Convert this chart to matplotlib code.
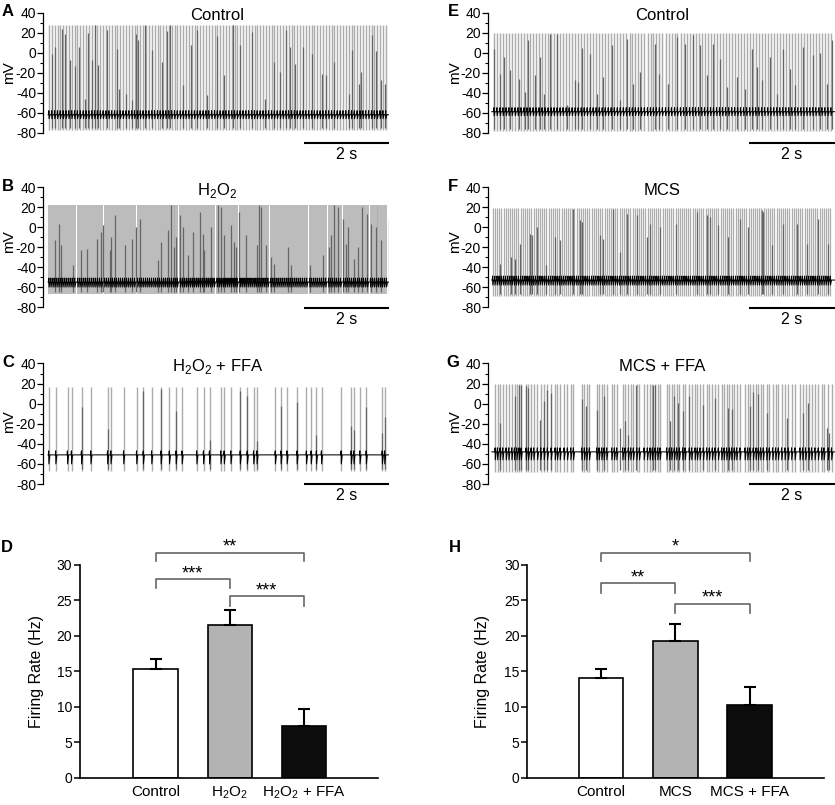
import matplotlib
matplotlib.use('Agg')
import matplotlib.pyplot as plt
import numpy as np
from matplotlib.ticker import MultipleLocator

plt.rcParams['font.family'] = ['Liberation Sans', 'DejaVu Sans']
plt.rcParams['mathtext.fontset'] = 'custom'
plt.rcParams['mathtext.rm'] = 'Liberation Sans'
plt.rcParams['axes.unicode_minus'] = False

H2O2 = r'H$_\mathregular{2}$O$_\mathregular{2}$'

# ---------------- trace data (time in s, voltage in mV) ----------------
# dense traces: first spike time + inter-spike intervals (ms)
a_start = 0.02
a_isi = [66, 68, 67, 65, 69, 67, 66, 68, 67, 66,
         70, 67, 65, 67, 68, 66, 67, 69, 66, 67,
         68, 65, 67, 66, 68, 67, 70, 66, 67, 65,
         67, 68, 66, 67, 69, 67, 66, 68, 65, 67,
         66, 68, 67, 67, 66, 69, 67, 65, 68, 66,
         67, 68, 66, 70, 67, 65, 67, 68, 66, 67,
         69, 66, 67, 68, 65, 67, 66, 68, 67, 66,
         68, 67, 65, 69, 67, 66, 67, 68, 66, 67,
         70, 66, 67, 65, 68, 67, 66, 69, 67, 66,
         68, 67, 66, 67, 68, 65, 67, 69, 66, 67,
         67, 68, 66, 67, 65, 68, 67, 66, 69, 67,
         66, 68, 67, 66, 67, 68, 67, 66]
b_start = 0.02
b_isi = [46, 48, 45, 47, 46, 49, 45, 47, 46, 48, 47, 45, 47, 72,
         47, 46, 48, 45, 47, 46, 48, 47, 45, 46, 48, 47, 70,
         46, 47, 48, 45, 47, 46, 49, 46, 47, 45, 48, 46, 47, 46, 48, 74,
         47, 46, 45, 48, 47, 46, 47, 49, 45, 46, 47, 48, 46, 45, 47, 48, 46, 47, 46, 45, 72,
         46, 48, 47, 45, 46, 47, 48, 46, 45, 47, 49, 46, 47, 45, 48, 46, 47, 70,
         47, 46, 48, 45, 47, 46, 47, 48, 45, 46, 73,
         46, 47, 45, 48, 47, 46, 49, 45, 47, 46, 48, 47, 45, 46, 71,
         47, 46, 48, 45, 47, 46, 47, 49, 46, 45, 47, 48, 46, 47, 45, 46, 48, 47, 72,
         46, 48, 47, 45, 47, 46, 48, 47, 70,
         47, 46, 48, 45, 47, 46, 72,
         46, 47, 48, 45, 47, 46, 49, 46, 47, 45, 48, 46, 70,
         47, 46, 48, 45, 47, 46, 48, 47]
e_start = 0.05
e_isi = [70, 72, 69, 71, 68, 70, 73, 69, 70, 71,
         69, 70, 72, 68, 71, 70, 69, 72, 70, 68,
         71, 70, 69, 73, 70, 68, 71, 70, 72, 69,
         70, 71, 68, 70, 72, 69, 71, 70, 68, 73,
         70, 69, 71, 70, 72, 68, 70, 71, 69, 70,
         72, 70, 68, 71, 69, 70, 73, 70, 69, 71,
         68, 70, 72, 69, 71, 70, 68, 72, 70, 69,
         71, 70, 69, 72, 68, 70, 71, 73, 69, 70,
         70, 68, 71, 70, 72, 69, 70, 71, 68, 70,
         73, 69, 70, 71, 70, 68, 72, 70, 69, 71,
         70, 72, 68, 70, 71, 69, 70, 72, 70, 69,
         71, 70]
f_start = 0.02
f_isi = [50, 51, 49, 52, 50, 48, 51, 50, 49, 52,
         50, 49, 51, 50, 52, 48, 50, 51, 49, 50,
         52, 50, 49, 51, 48, 50, 51, 50, 52, 49,
         50, 51, 49, 50, 52, 50, 48, 51, 50, 49,
         51, 50, 52, 49, 50, 51, 48, 50, 52, 50,
         49, 51, 50, 50, 52, 49, 51, 48, 50, 51,
         50, 49, 52, 50, 51, 49, 50, 48, 51, 50,
         52, 50, 49, 51, 50, 50, 49, 52, 48, 51,
         50, 51, 49, 50, 52, 50, 49, 51, 50, 48,
         51, 50, 52, 49, 50, 51, 50, 49, 52, 50,
         48, 51, 50, 49, 51, 50, 52, 50, 49, 51,
         50, 48, 52, 50, 51, 49, 50, 51, 50, 49,
         52, 50, 51, 48, 50, 49, 51, 50, 52, 50,
         49, 51, 50, 50, 48, 52, 51, 49, 50, 51,
         50, 49, 52, 50, 51, 48, 50, 51, 49, 50,
         52, 50, 49, 51, 50, 50, 51]

# sparse traces: spike times (s)
c_spikes = [0.016, 0.18, 0.455, 0.549, 0.784, 1.004, 1.396, 1.475, 1.773, 2.078,
            2.235, 2.431, 2.651, 2.847, 3.004, 3.145, 3.49, 3.647, 3.788, 4.055,
            4.133, 4.29, 4.51, 4.675, 4.824, 4.902, 5.333, 5.467, 5.608, 5.843,
            6.063, 6.173, 6.298, 6.416, 6.878, 7.114, 7.176, 7.318, 7.467, 7.843,
            7.898]
g_spikes = [0.078, 0.132, 0.194, 0.256, 0.334, 0.396, 0.466, 0.528, 0.583, 0.637,
            0.684, 0.8, 0.854, 0.917, 0.979, 1.064, 1.142, 1.219, 1.297, 1.383,
            1.476, 1.53, 1.592, 1.685, 1.763, 1.841, 1.903, 2.097, 2.159, 2.214,
            2.276, 2.447, 2.501, 2.563, 2.617, 2.68, 2.796, 2.858, 2.913, 3.052,
            3.107, 3.184, 3.239, 3.301, 3.379, 3.441, 3.55, 3.627, 3.689, 3.744,
            3.806, 3.868, 3.922, 4.078, 4.14, 4.194, 4.256, 4.311, 4.373, 4.45,
            4.505, 4.606, 4.66, 4.738, 4.792, 4.854, 4.932, 5.01, 5.072, 5.142,
            5.204, 5.282, 5.359, 5.414, 5.476, 5.538, 5.592, 5.654, 5.709, 5.786,
            5.903, 5.965, 6.019, 6.097, 6.159, 6.214, 6.268, 6.33, 6.408, 6.47,
            6.548, 6.617, 6.68, 6.757, 6.835, 6.913, 6.99, 7.068, 7.184, 7.247,
            7.316, 7.394, 7.456, 7.534, 7.612, 7.689, 7.744, 7.845, 7.922]

# partially drawn (dark) spikes: (time s, tip mV)
a_dark = [(0.094, -1), (0.157, 6), (0.329, 24), (0.408, 19), (0.51, -7), (0.627, -13),
          (0.722, 6), (0.863, -46), (0.941, 20), (1.02, -7), (1.098, 28), (1.161, -12),
          (1.373, 23), (1.608, 4), (1.663, -36), (1.827, -41), (1.976, -47), (2.055, 19),
          (2.118, 13), (2.275, 28), (2.431, 3), (2.667, -9), (2.784, 22), (2.863, 28),
          (3.176, -32), (3.357, 8), (3.49, 23), (3.725, -42), (3.961, 17), (4.133, -22),
          (4.337, 28), (4.51, 8), (4.784, 21), (5.098, -46), (5.294, -9), (5.451, -19),
          (5.592, 23), (5.686, 6), (5.804, -11), (5.984, 6), (6.196, -1), (6.431, -21),
          (6.51, -22), (6.706, -9), (7.059, -41), (7.137, 3), (7.294, -31), (7.349, -19),
          (7.608, 18), (7.686, 2), (7.804, -27), (7.898, -31)]
b_dark = [(0.156, -13), (0.25, 3), (0.297, -18), (0.585, -38), (0.781, -23), (0.921, -22),
          (1.148, -12), (1.249, -5), (1.288, 2), (1.444, -23), (1.483, -10), (1.561, 12),
          (1.796, -18), (1.967, -12), (2.053, 0), (2.147, 8), (2.576, -33), (2.654, -15),
          (2.81, -3), (2.873, 22), (2.951, -20), (3.005, -10), (3.084, 12), (3.162, 0),
          (3.279, -28), (3.396, -5), (3.575, 15), (3.63, -7), (3.669, -23), (3.825, 0),
          (3.981, 22), (4.059, 20), (4.137, -8), (4.294, 2), (4.372, -15), (4.411, -20),
          (4.489, 15), (4.645, -8), (4.902, -18), (4.957, 22), (4.996, 20), (5.113, -18),
          (5.23, -30), (5.308, -37), (5.621, -20), (5.698, -38), (6.151, -38), (6.44, -28),
          (6.596, -20), (6.635, -8), (6.714, 22), (6.792, 20), (6.909, 8), (6.987, -17),
          (7.041, 0), (7.182, -32), (7.276, -20), (7.377, 20), (7.494, 13), (7.572, 3),
          (7.689, 0), (7.806, -13), (7.99, 7)]
c_dark = [(0.784, -3), (1.396, -25), (2.235, 13), (2.651, 15), (3.004, -7), (3.788, -36),
          (4.51, 13), (4.675, 8), (4.902, -37), (5.467, -2), (5.843, 2), (6.298, -31),
          (7.114, -22), (7.176, -26), (7.467, -3), (7.843, -29), (7.898, -13)]
e_dark = [(0.054, 4), (0.179, -21), (0.272, -4), (0.412, -17), (0.637, -26), (0.761, -39),
          (0.854, 13), (1.01, -22), (1.111, -4), (1.219, -41), (1.344, 19), (1.53, 19),
          (1.748, -52), (1.942, -27), (2.019, -29), (2.097, 5), (2.291, -1), (2.462, -41),
          (2.602, -24), (2.796, 8), (2.99, -47), (3.146, 14), (3.301, -31), (3.456, -19),
          (3.806, 9), (3.907, -21), (4.117, -31), (4.311, 16), (4.505, 9), (4.683, 18),
          (4.854, 8), (5.01, -22), (5.15, 9), (5.32, -6), (5.476, -34), (5.709, -24),
          (5.903, -36), (6.058, 4), (6.175, -14), (6.291, -27), (6.485, -4), (6.641, -41),
          (6.796, 4), (6.951, -16), (7.068, -32), (7.262, 6), (7.495, -2), (7.65, 0),
          (7.806, -31), (7.922, 13)]
f_dark = [(0.179, -37), (0.45, -30), (0.544, -32), (0.66, -17), (0.893, -7), (0.932, -8),
          (1.064, 0), (1.258, -38), (1.476, -10), (1.592, -13), (1.903, 18), (2.058, 7),
          (2.113, 5), (2.524, -8), (2.586, -12), (2.819, 18), (2.99, -25), (3.146, 13),
          (3.379, 12), (3.612, -10), (3.689, 3), (3.922, 0), (4.295, 3), (4.777, 15),
          (5.01, 12), (5.087, 10), (5.282, 2), (5.515, -10), (5.786, 8), (5.981, 0),
          (6.291, 17), (6.33, 15), (6.524, -18), (6.796, 3), (7.107, 3), (7.34, -17),
          (7.612, 8), (7.845, -17)]
g_dark = [(0.194, -19), (0.528, 8), (0.637, 19), (0.684, 19), (0.8, 18), (0.854, 16),
          (1.126, -16), (1.204, 3), (1.282, 14), (1.375, 11), (2.097, 5), (2.19, -2),
          (2.447, -6), (2.617, 8), (2.99, -24), (3.107, -17), (3.184, -31), (3.363, 19),
          (3.751, 19), (3.806, 19), (4.155, -17), (4.249, 8), (4.349, 1), (4.466, -7),
          (4.606, 8), (4.932, -1), (5.204, 6), (5.515, -4), (5.592, -5), (6.019, -2),
          (6.097, 12), (6.198, 10), (6.408, -9), (6.874, -14), (7.262, -9), (7.379, 1),
          (7.821, -24), (7.868, -29)]

# [peak, trough, resting level, after-hyperpolarisation depth] in mV
a_levels = [28, -77, -62, 4]
b_levels = [22, -67, -55, 5]
c_levels = [17, -67, -51, 9]
e_levels = [20, -78, -59, 4]
f_levels = [19, -69, -53, 5]
g_levels = [20, -68, -48, 8]

trace_titles = ['Control', H2O2, H2O2 + ' + FFA', 'Control', 'MCS', 'MCS + FFA']
trace_letters = ['A', 'B', 'C', 'E', 'F', 'G']

# ---------------- bar data ----------------
d_labels = ['Control', H2O2, H2O2 + ' + FFA']
d_mean = [15.3, 21.6, 7.25]
d_sem = [1.4, 2.0, 2.45]
d_pairs = [(0, 2, '**'), (0, 1, '***'), (1, 2, '***')]

h_labels = ['Control', 'MCS', 'MCS + FFA']
h_mean = [14.0, 19.3, 10.3]
h_sem = [1.3, 2.35, 2.45]
h_pairs = [(0, 2, '*'), (0, 1, '**'), (1, 2, '***')]

bar_colors = ['white', '#b3b3b3', '#0c0c0c']


def to_times(start, isi):
    return start + np.cumsum([0] + isi) / 1000.0


a_spikes = to_times(a_start, a_isi)
b_spikes = to_times(b_start, b_isi)
e_spikes = to_times(e_start, e_isi)
f_spikes = to_times(f_start, f_isi)

# ---------------- layout ----------------
W, H = 835, 805
fig = plt.figure(figsize=(W / 100, H / 100), dpi=100)


def px_axes(left, top, right, bottom):
    return fig.add_axes([left / W, 1 - bottom / H, (right - left) / W, (bottom - top) / H])


def draw_trace(ax, spikes, dark, levels, title, bar_y, text_y, x0, spike_lw):
    peak, trough, base, ahp = levels
    spikes = np.asarray(spikes)
    ax.vlines(spikes, trough, peak, color='#acacac', lw=spike_lw, zorder=1)
    dt = [d[0] for d in dark]
    dv = [d[1] for d in dark]
    ax.vlines(dt, trough + 2, dv, color='#656565', lw=0.9, zorder=2)
    # membrane potential between spikes
    tt = [0.0]
    vv = [base]
    for s in spikes:
        tt += [s - 0.010, s - 0.002, s + 0.002, s + 0.025]
        vv += [base, base + 4, base - ahp, base]
    tt.append(8.0)
    vv.append(base)
    order = np.argsort(tt)
    ax.plot(np.array(tt)[order], np.array(vv)[order], color='black', lw=0.75, zorder=3)

    ax.set_xlim(x0, 8.0)
    ax.set_ylim(-80, 40)
    for s in ['top', 'right', 'bottom']:
        ax.spines[s].set_visible(False)
    ax.spines['left'].set_linewidth(0.9)
    ax.set_xticks([])
    ax.set_yticks(range(-80, 41, 20))
    ax.yaxis.set_minor_locator(MultipleLocator(10))
    ax.tick_params(axis='y', which='major', length=4, width=0.9, labelsize=10, pad=1)
    ax.tick_params(axis='y', which='minor', length=2.3, width=0.8)
    ax.text(3.97, 37, title, ha='center', va='center', fontsize=12)
    # 2 s scale bar
    ax.plot([6.0, 8.0], [bar_y, bar_y], color='black', lw=1.5, clip_on=False,
            solid_capstyle='butt')
    ax.text(7.0, text_y, '2 s', ha='center', va='center', fontsize=11.5)
    ax.patch.set_alpha(0)


rows = [(12.7, 132.7), (187.3, 307.0), (363.5, 484.0)]
bar_levels = [(-90.6, -102), (-81, -92.5), (-80, -91.5)]
mv_y = [73, 242, 422]
columns = [(43, 389, -0.12, 8, 9), (488, 835, -0.09, 453, 455)]
spike_widths = [1.05, 1.15, 1.0, 1.05, 0.9, 1.0]

traces = [(a_spikes, a_dark, a_levels), (b_spikes, b_dark, b_levels),
          (c_spikes, c_dark, c_levels), (e_spikes, e_dark, e_levels),
          (f_spikes, f_dark, f_levels), (g_spikes, g_dark, g_levels)]

k = 0
for left, right, x0, lx, mx in columns:
    for (top, bottom), (by, ty), my in zip(rows, bar_levels, mv_y):
        ax = px_axes(left, top, right, bottom)
        sp, dk, lv = traces[k]
        draw_trace(ax, sp, dk, lv, trace_titles[k], by, ty, x0, spike_widths[k])
        fig.text(lx / W, 1 - (top - 1) / H, trace_letters[k], ha='center', va='center',
                 fontsize=12, fontweight='bold')
        fig.text(mx / W, 1 - my / H, 'mV', rotation=90, ha='center', va='center',
                 fontsize=11)
        k += 1


def draw_bars(ax, labels, means, sems, pairs, heights, x0):
    x = np.arange(len(means))
    ax.bar(x, means, width=0.6, color=bar_colors, edgecolor='black', linewidth=1.2, zorder=2)
    ax.errorbar(x, means, yerr=[np.zeros(len(sems)), sems], fmt='none', ecolor='black',
                elinewidth=1.5, capsize=4, capthick=1.5, zorder=3)
    for (i, j, stars), (lo, hi) in zip(pairs, heights):
        ax.plot([i, i, j, j], [lo, hi, hi, lo], color='#666666', lw=1.2, clip_on=False)
        ax.text((i + j) / 2, hi + 0.15, stars, ha='center', va='baseline', fontsize=13)
    ax.set_xlim(x0, 3.0)
    ax.set_ylim(0, 30)
    ax.set_yticks(range(0, 31, 5))
    ax.set_xticks(x)
    ax.set_xticklabels(labels)
    for s in ['top', 'right']:
        ax.spines[s].set_visible(False)
    ax.spines['left'].set_linewidth(1.2)
    ax.spines['bottom'].set_linewidth(1.2)
    ax.tick_params(axis='x', length=0, pad=5, labelsize=11)
    ax.tick_params(axis='y', length=4, width=1.1, labelsize=10, pad=1.5)


ax_d = px_axes(80, 565, 378, 777.7)
draw_bars(ax_d, d_labels, d_mean, d_sem, d_pairs,
          [(30.5, 31.7), (26.7, 28.0), (24.2, 25.6)], -1.02)
fig.text(7 / W, 1 - 547 / H, 'D', ha='center', va='center', fontsize=12, fontweight='bold')
fig.text(37 / W, 1 - 672 / H, 'Firing Rate (Hz)', rotation=90, ha='center', va='center',
         fontsize=11.5)

ax_h = px_axes(527.3, 565, 824, 777.7)
draw_bars(ax_h, h_labels, h_mean, h_sem, h_pairs,
          [(30.5, 31.7), (26.1, 27.4), (23.2, 24.5)], -0.99)
fig.text(455 / W, 1 - 547 / H, 'H', ha='center', va='center', fontsize=12, fontweight='bold')
fig.text(483 / W, 1 - 672 / H, 'Firing Rate (Hz)', rotation=90, ha='center', va='center',
         fontsize=11.5)

fig.savefig('out.png', dpi=100, facecolor='white')
